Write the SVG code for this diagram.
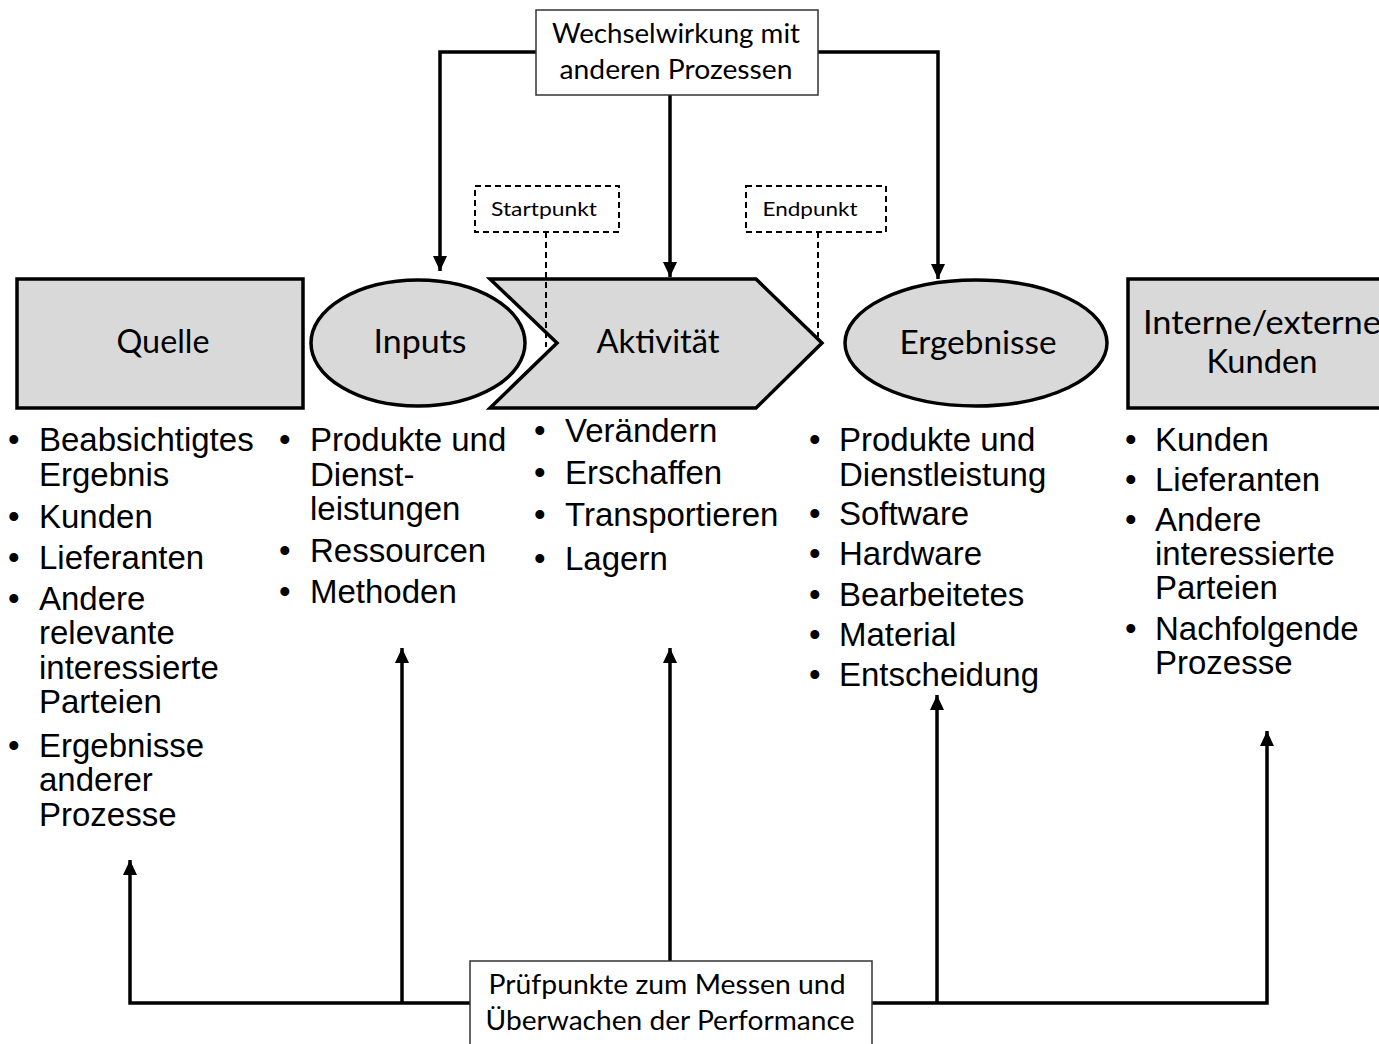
<svg xmlns="http://www.w3.org/2000/svg" width="1379" height="1044" viewBox="0 0 1379 1044">
<style>
.shape{fill:#d9d9d9;stroke:#000;stroke-width:3.5}
.box{fill:#fff;stroke:#333;stroke-width:1.5}
.dbox{fill:#fff;stroke:#000;stroke-width:2;stroke-dasharray:6,4}
.dline{fill:none;stroke:#000;stroke-width:2;stroke-dasharray:6,4}
.conn{fill:none;stroke:#000;stroke-width:3.5}
.lbl{font-family:Lato,"Open Sans",sans-serif;fill:#000;text-anchor:middle}
.big{font-size:32px}
.mid{font-size:26px}
.sm{font-size:20px}
.lst{font-family:"Liberation Sans",Arial,sans-serif;font-size:33px;fill:#000}
</style>
<defs>
<marker id="ah" markerUnits="userSpaceOnUse" markerWidth="16" markerHeight="16" viewBox="0 0 16 16" refX="15" refY="8" orient="auto">
<path d="M0,1 L15,8 L0,15 Z" fill="#000"/>
</marker>
</defs>
<rect width="1379" height="1044" fill="#fff"/>

<g id="connectors">
<path class="conn" d="M536,52 H440 V271" marker-end="url(#ah)"/>
<path class="conn" d="M818,52 H938 V279" marker-end="url(#ah)"/>
<path class="conn" d="M670,95 V277" marker-end="url(#ah)"/>
<path class="conn" d="M470,1003 H130 V860" marker-end="url(#ah)"/>
<path class="conn" d="M402,1003 V648" marker-end="url(#ah)"/>
<path class="conn" d="M670,961 V648" marker-end="url(#ah)"/>
<path class="conn" d="M872,1003 H1267 V731" marker-end="url(#ah)"/>
<path class="conn" d="M937,1003 V695" marker-end="url(#ah)"/>
</g>

<g id="quelle">
<rect class="shape" x="17" y="279" width="286" height="129"/>
<text class="lbl big" x="163" y="353" textLength="93" lengthAdjust="spacingAndGlyphs">Quelle</text>
</g>
<g id="inputs">
<ellipse class="shape" cx="418" cy="343" rx="107" ry="63"/>
<text class="lbl big" x="420" y="353" textLength="93" lengthAdjust="spacingAndGlyphs">Inputs</text>
</g>
<g id="aktivitaet">
<polygon class="shape" points="490,279 756,279 822,343 756,408 490,408 557,343"/>
<text class="lbl big" x="658" y="353" textLength="123" lengthAdjust="spacingAndGlyphs">Aktivität</text>
</g>
<g id="ergebnisse">
<ellipse class="shape" cx="976" cy="343" rx="131" ry="63"/>
<text class="lbl big" x="978" y="354" textLength="157" lengthAdjust="spacingAndGlyphs">Ergebnisse</text>
</g>
<g id="kunden">
<rect class="shape" x="1128" y="279" width="260" height="129"/>
<text class="lbl big" x="1262" y="334" textLength="238" lengthAdjust="spacingAndGlyphs">Interne/externe</text>
<text class="lbl big" x="1262" y="373" textLength="111" lengthAdjust="spacingAndGlyphs">Kunden</text>
</g>

<g id="startpunkt">
<rect class="dbox" x="475" y="186" width="144" height="46"/>
<text class="lbl sm" x="544" y="216" textLength="106" lengthAdjust="spacingAndGlyphs">Startpunkt</text>
<path class="dline" d="M546,232 V347"/>
</g>
<g id="endpunkt">
<rect class="dbox" x="746" y="186" width="140" height="46"/>
<text class="lbl sm" x="810" y="216" textLength="95" lengthAdjust="spacingAndGlyphs">Endpunkt</text>
<path class="dline" d="M818,232 V337"/>
</g>

<g id="wechselwirkung">
<rect class="box" x="536" y="10" width="282" height="85"/>
<text class="lbl mid" x="676" y="43" textLength="248" lengthAdjust="spacingAndGlyphs">Wechselwirkung mit</text>
<text class="lbl mid" x="676" y="79" textLength="233" lengthAdjust="spacingAndGlyphs">anderen Prozessen</text>
</g>
<g id="pruefpunkte">
<rect class="box" x="470" y="961" width="402" height="90"/>
<text class="lbl mid" x="667" y="994" textLength="357" lengthAdjust="spacingAndGlyphs">Prüfpunkte zum  Messen und</text>
<text class="lbl mid" x="670" y="1030" textLength="369" lengthAdjust="spacingAndGlyphs">Überwachen der Performance</text>
</g>

<g id="liste-quelle" class="lst">
<text x="8" y="451">•</text><text x="39" y="451">Beabsichtigtes</text>
<text x="39" y="486">Ergebnis</text>
<text x="8" y="528">•</text><text x="39" y="528">Kunden</text>
<text x="8" y="569">•</text><text x="39" y="569">Lieferanten</text>
<text x="8" y="610">•</text><text x="39" y="610">Andere</text>
<text x="39" y="644">relevante</text>
<text x="39" y="679">interessierte</text>
<text x="39" y="713">Parteien</text>
<text x="8" y="757">•</text><text x="39" y="757">Ergebnisse</text>
<text x="39" y="791">anderer</text>
<text x="39" y="826">Prozesse</text>
</g>
<g id="liste-inputs" class="lst">
<text x="279" y="451">•</text><text x="310" y="451">Produkte  und</text>
<text x="310" y="486">Dienst-</text>
<text x="310" y="520">leistungen</text>
<text x="279" y="562">•</text><text x="310" y="562">Ressourcen</text>
<text x="279" y="603">•</text><text x="310" y="603">Methoden</text>
</g>
<g id="liste-aktivitaet" class="lst">
<text x="534" y="442">•</text><text x="565" y="442">Verändern</text>
<text x="534" y="484">•</text><text x="565" y="484">Erschaffen</text>
<text x="534" y="526">•</text><text x="565" y="526">Transportieren</text>
<text x="534" y="570">•</text><text x="565" y="570">Lagern</text>
</g>
<g id="liste-ergebnisse" class="lst">
<text x="809" y="451">•</text><text x="839" y="451">Produkte  und</text>
<text x="839" y="486">Dienstleistung</text>
<text x="809" y="525">•</text><text x="839" y="525">Software</text>
<text x="809" y="565">•</text><text x="839" y="565">Hardware</text>
<text x="809" y="606">•</text><text x="839" y="606">Bearbeitetes</text>
<text x="809" y="646">•</text><text x="839" y="646">Material</text>
<text x="809" y="686">•</text><text x="839" y="686">Entscheidung</text>
</g>
<g id="liste-kunden" class="lst">
<text x="1125" y="451">•</text><text x="1155" y="451">Kunden</text>
<text x="1125" y="491">•</text><text x="1155" y="491">Lieferanten</text>
<text x="1125" y="531">•</text><text x="1155" y="531">Andere</text>
<text x="1155" y="565">interessierte</text>
<text x="1155" y="599">Parteien</text>
<text x="1125" y="640">•</text><text x="1155" y="640">Nachfolgende</text>
<text x="1155" y="674">Prozesse</text>
</g>
</svg>
